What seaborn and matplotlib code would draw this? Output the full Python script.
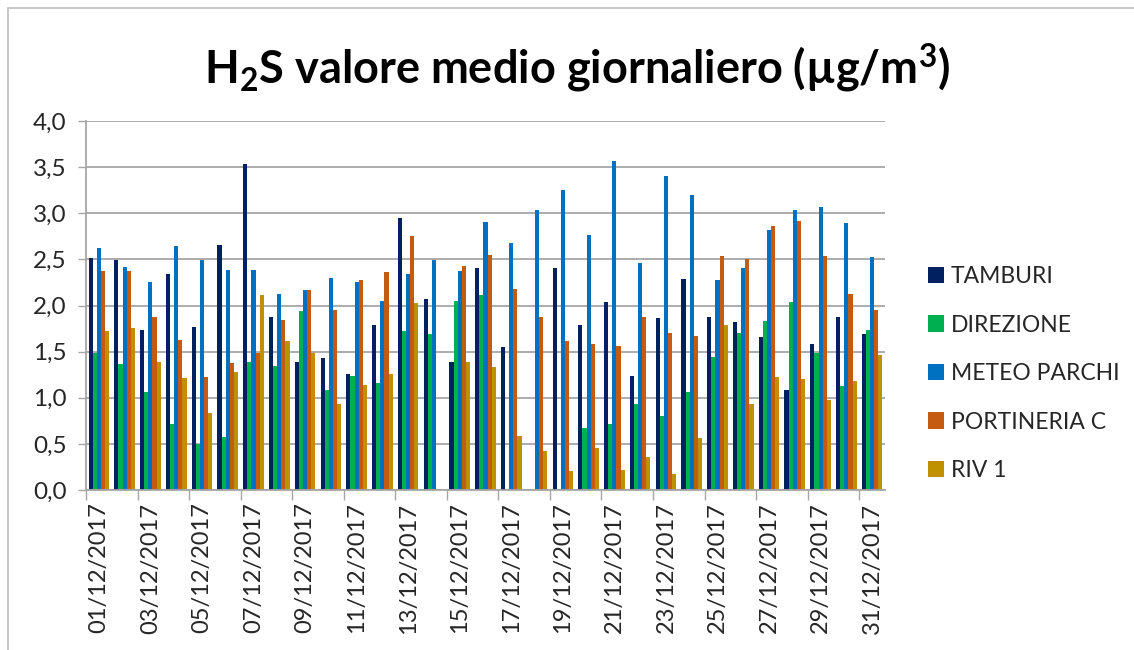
import numpy as np
import pandas as pd
import matplotlib
matplotlib.use("Agg")
import matplotlib.pyplot as plt
import seaborn as sns
from matplotlib.lines import Line2D
from matplotlib.patches import Patch

days = [f"{d:02d}/12/2017" for d in range(1, 32)]
series_names = ["TAMBURI", "DIREZIONE", "METEO PARCHI", "PORTINERIA C", "RIV 1"]
nan = np.nan
tamburi = [2.51, 2.49, 1.73, 2.34, 1.77, 2.66, 3.53, 1.88, 1.39, 1.43, 1.26, 1.79, 2.95, 2.07, 1.39, 2.41,
           1.55, nan, 2.41, 1.79, 2.04, 1.24, 1.86, 2.29, 1.88, 1.82, 1.66, 1.08, 1.58, 1.87, 1.69]
direzione = [1.49, 1.37, 1.06, 0.72, 0.50, 0.57, 1.39, 1.34, 1.94, 1.08, 1.24, 1.16, 1.72, 1.69, 2.05, 2.11,
             nan, nan, nan, 0.67, 0.72, 0.93, 0.80, 1.06, 1.44, 1.70, 1.83, 2.04, 1.49, 1.13, 1.73]
meteo_parchi = [2.62, 2.42, 2.26, 2.64, 2.49, 2.39, 2.39, 2.12, 2.17, 2.30, 2.26, 2.05, 2.34, 2.49, 2.37, 2.90,
                2.68, 3.04, 3.25, 2.76, 3.57, 2.46, 3.40, 3.20, 2.28, 2.41, 2.82, 3.04, 3.07, 2.89, 2.53]
portineria_c = [2.37, 2.37, 1.88, 1.63, 1.23, 1.38, 1.49, 1.84, 2.17, 1.95, 2.28, 2.36, 2.75, nan, 2.43, 2.55,
                2.18, 1.87, 1.62, 1.58, 1.56, 1.88, 1.70, 1.67, 2.54, 2.50, 2.86, 2.92, 2.54, 2.12, 1.95]
riv_1 = [1.72, 1.76, 1.39, 1.21, 0.84, 1.28, 2.11, 1.61, 1.49, 0.93, 1.14, 1.26, 2.03, nan, 1.39, 1.33,
         0.59, 0.42, 0.21, 0.46, 0.22, 0.36, 0.17, 0.56, 1.79, 0.93, 1.23, 1.20, 0.98, 1.18, 1.46]
y_ticks = [0.0, 0.5, 1.0, 1.5, 2.0, 2.5, 3.0, 3.5, 4.0]
colors = ["#002060", "#00B050", "#0070C0", "#C55A11", "#BF9000"]

values = [tamburi, direzione, meteo_parchi, portineria_c, riv_1]
rows = []
for name, vals in zip(series_names, values):
    for d, v in zip(days, vals):
        rows.append({"Data": d, "Stazione": name, "Valore": v})
df = pd.DataFrame(rows)

sns.set_theme(style="white")
plt.rcParams["font.family"] = ["Lato", "DejaVu Sans"]
plt.rcParams["mathtext.fontset"] = "custom"
plt.rcParams["mathtext.rm"] = "Lato:bold"
plt.rcParams["mathtext.bf"] = "Lato:bold"

fig = plt.figure(figsize=(11.34, 6.5), dpi=100)
ax = fig.add_axes([86 / 1134, 1 - 490 / 650, (885 - 86) / 1134, (490 - 121) / 650])

sns.barplot(data=df, x="Data", y="Valore", hue="Stazione", order=days, hue_order=series_names,
            palette=colors, width=0.8, saturation=1, ax=ax, legend=False, errorbar=None,
            linewidth=0, edgecolor="none")

ax.set_xlim(-0.5, len(days) - 0.5)
ax.set_ylim(0, 4.0)
ax.set_yticks(y_ticks)
ax.set_yticklabels([f"{t:.1f}".replace(".", ",") for t in y_ticks], fontsize=17.5, color="#262626")
ax.yaxis.grid(True, color="#A6A6A6", linewidth=1.3)
ax.set_axisbelow(True)
ax.tick_params(axis="y", which="both", length=6, width=1, color="#A6A6A6", left=True, pad=8)

# labels every 2 days, tick marks at category boundaries
ax.set_xticks(range(0, len(days), 2))
ax.set_xticklabels(days[::2], rotation=90, fontsize=17, color="#262626")
ax.tick_params(axis="x", which="major", length=0, pad=9)
ax.set_xticks(np.arange(-0.5, len(days), 2), minor=True)
ax.tick_params(axis="x", which="minor", length=7, width=1, color="#A6A6A6", bottom=True)

for s in ["top", "right"]:
    ax.spines[s].set_visible(False)
for s in ["left", "bottom"]:
    ax.spines[s].set_color("#A6A6A6")
    ax.spines[s].set_linewidth(1.3)
ax.set_xlabel("")
ax.set_ylabel("")

fig.text(0.5087, 1 - 68 / 650, r"H$_{2}$S valore medio giornaliero (µg/m$^{3}$)",
         ha="center", va="center", fontsize=32.5, fontweight="bold", color="black")

handles = [Patch(facecolor=c, edgecolor="none") for c in colors]
leg = fig.legend(handles, series_names, loc="upper left", bbox_to_anchor=(928 / 1134, 1 - 266 / 650),
                 frameon=False, fontsize=16.5, handlelength=0.7, handleheight=0.7, handletextpad=0.3,
                 labelspacing=1.2, borderpad=0, borderaxespad=0, labelcolor="#262626")

# chart border (left and top visible)
fig.add_artist(Line2D([8 / 1134, 8 / 1134], [0, 1 - 8 / 650], color="#BFBFBF", linewidth=1.2))
fig.add_artist(Line2D([8 / 1134, 1], [1 - 8 / 650, 1 - 8 / 650], color="#BFBFBF", linewidth=1.2))

fig.savefig("out.png", dpi=100)
